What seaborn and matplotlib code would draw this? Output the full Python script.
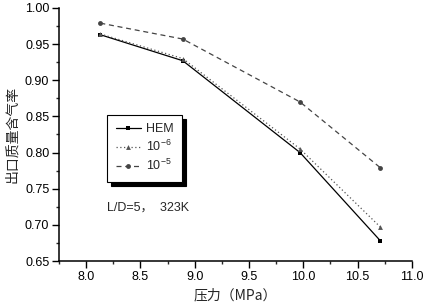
import pandas as pd
import matplotlib
matplotlib.use('Agg')
import matplotlib.pyplot as plt
import seaborn as sns
from matplotlib.ticker import MultipleLocator

# datos
presion = [8.13, 8.89, 9.97, 10.71]
hem = [0.963, 0.927, 0.800, 0.678]
rug_1e6 = [0.964, 0.930, 0.805, 0.697]
rug_1e5 = [0.979, 0.957, 0.870, 0.779]
etiquetas = ['HEM', '$10^{-6}$', '$10^{-5}$']

df = pd.DataFrame({
    'p': presion * 3,
    'x': hem + rug_1e6 + rug_1e5,
    'serie': [etiquetas[0]] * 4 + [etiquetas[1]] * 4 + [etiquetas[2]] * 4,
})

sns.set_style('ticks')
plt.rcParams['font.family'] = ['Liberation Sans', 'Noto Sans CJK SC']
plt.rcParams['mathtext.fontset'] = 'custom'
plt.rcParams['mathtext.rm'] = 'Liberation Sans'
plt.rcParams['mathtext.it'] = 'Liberation Sans'

fig = plt.figure(figsize=(4.25, 3.06), dpi=100)
ax = fig.add_axes([0.139, 0.147, 0.830, 0.827])

sns.lineplot(data=df, x='p', y='x', hue='serie', style='serie',
             palette={etiquetas[0]: 'black', etiquetas[1]: '#555555', etiquetas[2]: '#444444'},
             dashes={etiquetas[0]: '', etiquetas[1]: (1, 2), etiquetas[2]: (4, 3)},
             markers={etiquetas[0]: 's', etiquetas[1]: '^', etiquetas[2]: 'o'},
             markersize=3.5, linewidth=0.9, markeredgewidth=0, ax=ax)

ax.set_xlim(7.75, 11.0)
ax.set_ylim(0.65, 1.0)
ax.xaxis.set_minor_locator(MultipleLocator(0.25))
ax.yaxis.set_minor_locator(MultipleLocator(0.025))
ax.set_xticks([8.0, 8.5, 9.0, 9.5, 10.0, 10.5, 11.0])
ax.set_xticklabels(['8.0', '8.5', '9.0', '9.5', '10.0', '10.5', '11.0'])
ax.set_yticks([0.65, 0.70, 0.75, 0.80, 0.85, 0.90, 0.95, 1.00])
ax.set_yticklabels(['0.65', '0.70', '0.75', '0.80', '0.85', '0.90', '0.95', '1.00'])
ax.tick_params(which='major', direction='out', length=5, width=1, labelsize=9, colors='black', pad=2)
ax.tick_params(which='minor', direction='out', length=2.5, width=1)
sns.despine(ax=ax)
for s in ['left', 'bottom']:
    ax.spines[s].set_linewidth(1.1)
    ax.spines[s].set_color('black')

ax.set_xlabel('压力（MPa）', fontsize=10, family=['Noto Sans CJK SC'], labelpad=4)
ax.set_ylabel('出口质量含气率', fontsize=10, family=['Noto Sans CJK SC'], labelpad=4)

leg = ax.legend(loc='upper left', bbox_to_anchor=(0.136, 0.578), borderaxespad=0,
                fontsize=9, frameon=True, fancybox=False,
                shadow={'ox': 3, 'oy': -3, 'color': 'black', 'alpha': 1},
                handlelength=2.0, handletextpad=0.4, labelspacing=0.3,
                borderpad=0.7, title=None)
leg.get_frame().set_edgecolor('black')
leg.get_frame().set_linewidth(0.8)
leg.get_frame().set_alpha(1)

ax.text(0.136, 0.20, 'L/D=5，  323K', transform=ax.transAxes, fontsize=9,
        family=['Liberation Sans', 'Noto Sans CJK SC'])

fig.savefig('out.png', dpi=100)
